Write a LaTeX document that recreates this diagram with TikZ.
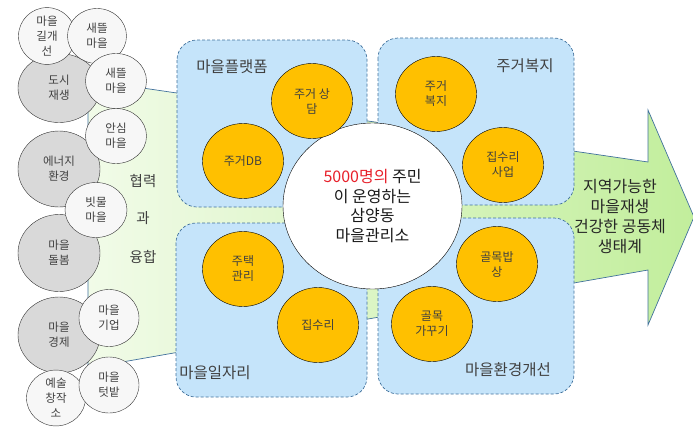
\documentclass[tikz,border=0pt]{standalone}
\usepackage{fontspec}
\setmainfont{Noto Sans CJK KR}
\usetikzlibrary{shapes.geometric}

\definecolor{zoneblue}{HTML}{C5E4FA}
\definecolor{zoneline}{HTML}{41719C}
\definecolor{spotorange}{HTML}{FFC000}
\definecolor{greenpale}{HTML}{F1FBE8}
\definecolor{greenarrow}{HTML}{C2EE9C}
\definecolor{keygray}{HTML}{D9D9D9}
\definecolor{subwhite}{HTML}{F7F7F7}
\definecolor{labeltext}{HTML}{404040}
\definecolor{hubred}{HTML}{E8202A}

\tikzset{
  zonebox/.style={draw=zoneline, dash pattern=on 3pt off 2pt, fill=zoneblue, rounded corners=20pt, line width=0.7pt},
  zonelabel/.style={text=labeltext, font=\fontsize{15.5}{18}\selectfont},
  spot/.style={ellipse, draw=black, fill=spotorange, minimum width=81pt, minimum height=75pt, inner sep=0pt, align=center, text=labeltext, font=\fontsize{12}{15}\selectfont},
  keycircle/.style={ellipse, draw=black!80, fill=keygray, minimum width=82pt, minimum height=76pt, inner sep=0pt, align=center, text=labeltext, font=\fontsize{11.5}{15}\selectfont},
  subcircle/.style={ellipse, draw=black!80, fill=subwhite, minimum width=60pt, minimum height=56pt, inner sep=0pt, align=center, text=labeltext, font=\fontsize{11.5}{15}\selectfont},
}

\begin{document}
\begin{tikzpicture}[x=1pt, y=-1pt]
            \useasboundingbox (0,0) rectangle (693,429);

            % Big Arrow
            \shade[left color=greenpale, right color=greenarrow, draw=zoneline, line width=0.7pt]
                (88,80) -- (648,162) -- (648,110) -- (694,217) -- (648,325) -- (648,270) -- (88,368) -- cycle;
            \node[text=labeltext, font=\fontsize{14.5}{17}\selectfont] (coop-1) at (143,181) {협력};
            \node[text=labeltext, font=\fontsize{14.5}{17}\selectfont] (coop-2) at (143,218) {과};
            \node[text=labeltext, font=\fontsize{14.5}{17}\selectfont] (coop-3) at (143,257) {융합};
            \node[align=center, text=black!85, font=\fontsize{16}{20}\selectfont] (goal) at (620,217) {지역가능한\\마을재생\\건강한 공동체\\생태계};

            % Zones
            \draw[zonebox] (177,40) rectangle (367,207);
            \draw[zonebox] (378,38) rectangle (574,205);
            \draw[zonebox] (176,223) rectangle (367,397);
            \draw[zonebox] (378,218) rectangle (574,394);
            \node[zonelabel] (zone-1) at (232,67) {마을플랫폼};
            \node[zonelabel] (zone-2) at (525,66) {주거복지};
            \node[zonelabel] (zone-3) at (215,373) {마을일자리};
            \node[zonelabel] (zone-4) at (508,370) {마을환경개선};

            % Hub
            \node[ellipse, draw=black, fill=white, minimum width=179pt, minimum height=166pt, inner sep=0pt,
                  align=center, text=black!90, font=\fontsize{16}{19.5}\selectfont] (hub) at (372.5,206)
                {\textcolor{hubred}{5000명의} 주민\\이 운영하는\\삼양동\\마을관리소};

            % Orange Spots
            \node[spot] (spot-1) at (312,101) {주거 상\\담};
            \node[spot] (spot-2) at (243,161) {주거DB};
            \node[spot] (spot-3) at (436,94) {주거\\복지};
            \node[spot] (spot-4) at (503,165) {집수리\\사업};
            \node[spot] (spot-5) at (243,269) {주택\\관리};
            \node[spot] (spot-6) at (318,325) {집수리};
            \node[spot] (spot-7) at (497,264) {골목밥\\상};
            \node[spot] (spot-8) at (432,324) {골목\\가꾸기};

            % LHS Circles
            \node[keycircle, minimum height=69pt] (key-1) at (59,88) {도시\\재생};
            \node[keycircle] (key-2) at (59,169) {에너지\\환경};
            \node[keycircle, minimum height=77pt] (key-3) at (59,253) {마을\\돌봄};
            \node[keycircle] (key-4) at (59,335) {마을\\경제};
            \node[subcircle, minimum width=57pt, minimum height=55pt] (sub-1) at (47,36) {마을\\길개\\선};
            \node[subcircle, minimum width=59pt, minimum height=55pt] (sub-2) at (97,36) {새뜰\\마을};
            \node[subcircle, minimum width=61pt, minimum height=55pt] (sub-3) at (116,81) {새뜰\\마을};
            \node[subcircle, minimum width=61pt, minimum height=55pt] (sub-4) at (116,136) {안심\\마을};
            \node[subcircle, minimum width=62pt, minimum height=55pt] (sub-5) at (96,210) {빗물\\마을};
            \node[subcircle, minimum height=57pt] (sub-6) at (109,318) {마을\\기업};
            \node[subcircle, minimum width=59pt, minimum height=55pt] (sub-7) at (56,398) {예술\\창작\\소};
            \node[subcircle] (sub-8) at (109,385) {마을\\텃밭};
\end{tikzpicture}
\end{document}
